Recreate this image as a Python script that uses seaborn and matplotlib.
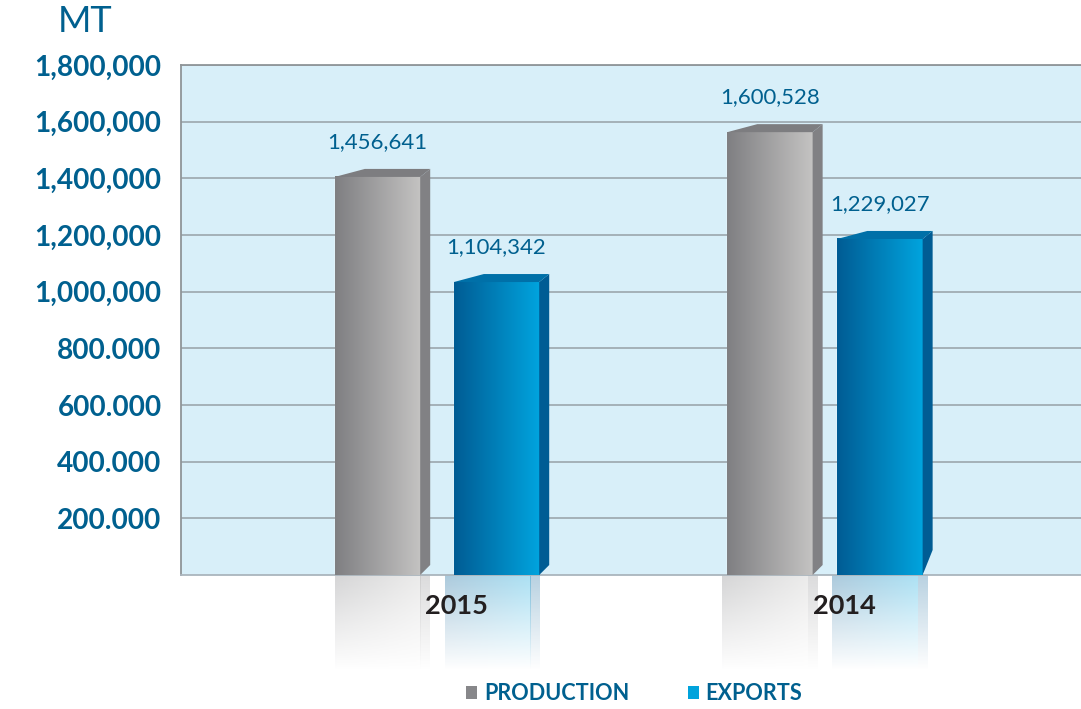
import numpy as np
import pandas as pd
import matplotlib.pyplot as plt
import seaborn as sns
from matplotlib.colors import to_rgb
from matplotlib.patches import Polygon
from matplotlib.transforms import ScaledTranslation

# data
years = ["2015", "2014"]
series = ["PRODUCTION", "EXPORTS"]
production_heights = [1405000, 1563000]
exports_heights = [1034000, 1186000]
production_labels = ["1,456,641", "1,600,528"]
exports_labels = ["1,104,342", "1,229,027"]
tick_values = [200000, 400000, 600000, 800000, 1000000, 1200000, 1400000, 1600000, 1800000]
tick_labels = ["200.000", "400.000", "600.000", "800.000", "1,000,000",
               "1,200,000", "1,400,000", "1,600,000", "1,800,000"]

BLUE_TXT = "#00608f"
GRAY_LEFT, GRAY_RIGHT, GRAY_SIDE, GRAY_TOP = "#7f7f82", "#c4c3c2", "#818184", "#7d7d80"
BLUE_LEFT, BLUE_RIGHT, BLUE_SIDE, BLUE_TOP = "#005c94", "#00a4de", "#005c94", "#0070a8"

sns.set_theme(style="whitegrid")
plt.rcParams["font.family"] = ["Lato", "DejaVu Sans"]

df = pd.DataFrame({
    "year": years * 2,
    "series": [series[0]] * 2 + [series[1]] * 2,
    "height": production_heights + exports_heights,
})

W, H = 1081, 709
fig = plt.figure(figsize=(W / 100, H / 100), dpi=100, facecolor="white")
ax = fig.add_axes([181 / W, 1 - 575 / H, 900 / W, 510 / H])
ax.set_facecolor("#d8eff9")

sns.barplot(data=df, x="year", y="height", hue="series", order=years, hue_order=series,
            palette=["#87878a", "#00a3dc"], gap=0.45, errorbar=None, ax=ax)

xmin, xmax = -0.66, 1.66
ymin, ymax = 0, 1800000
px_x = (xmax - xmin) / 900
px_y = (ymax - ymin) / 510


def gradient(c0, c1, alpha_top=None, alpha_bottom=None):
    # horizontal colour ramp, optional vertical fade
    c0, c1 = np.array(to_rgb(c0)), np.array(to_rgb(c1))
    t = np.linspace(0, 1, 128)[None, :, None]
    rgb = np.repeat(c0[None, None, :] * (1 - t) + c1[None, None, :] * t, 128, axis=0)
    if alpha_top is None:
        return rgb
    a = np.linspace(alpha_top, alpha_bottom, 128)[:, None, None] * np.ones((128, 128, 1))
    return np.concatenate([rgb, a], axis=2)


# spacing between the two bars of a group and the shift of the reflections, in pixels
pair_px = [119, 110]
reflect_shift = [[0, -5], [-9, -5]]
side_rise = [[10, 10], [10, 25]]
DEPTH, RISE, SKEW, FADE = 10, 8, 30, 96

styles = [(GRAY_LEFT, GRAY_RIGHT, GRAY_SIDE, GRAY_TOP), (BLUE_LEFT, BLUE_RIGHT, BLUE_SIDE, BLUE_TOP)]
value_labels = [production_labels, exports_labels]

for s, cont in enumerate(ax.containers):
    left, right, side, top = styles[s]
    for i, bar in enumerate(cont):
        w = bar.get_width()
        h = bar.get_height()
        sign = -1 if s == 0 else 1
        x0 = i + sign * pair_px[i] * px_x / 2 - w / 2
        x1 = x0 + w
        bar.set_x(x0)
        dx, dy = DEPTH * px_x, RISE * px_y
        ax.imshow(gradient(left, right), extent=[x0, x1, 0, h], aspect="auto", zorder=3)
        ax.add_patch(Polygon([(x1, h), (x1 + dx, h + dy), (x1 + dx, side_rise[s][i] * px_y), (x1, 0)],
                             fc=side, ec="none", zorder=3))
        ax.add_patch(Polygon([(x0, h), (x0 + SKEW * px_x, h + dy), (x1 + dx, h + dy), (x1, h)],
                             fc=top, ec="none", zorder=3))
        # reflection under the axis
        rx = reflect_shift[s][i] * px_x
        ax.imshow(gradient(left, right, 0.33, 0), extent=[x0 + rx, x1 + rx, -FADE * px_y, 0],
                  aspect="auto", zorder=1, clip_on=False)
        ax.imshow(gradient(side, side, 0.28, 0), extent=[x1 + rx, x1 + rx + dx, -FADE * px_y, 0],
                  aspect="auto", zorder=1, clip_on=False)
        ax.annotate(value_labels[s][i], (x0 + w / 2, h), xytext=(0, 35 * 0.72),
                    textcoords="offset points", ha="center", va="center",
                    color=BLUE_TXT, fontsize=15.9, zorder=5)

ax.set_xlim(xmin, xmax)
ax.set_ylim(ymin, ymax)
ax.set_axisbelow("line")
ax.set_xlabel("")
ax.set_ylabel("")

ax.grid(axis="x", visible=False)
ax.grid(axis="y", color="#a0acb3", linewidth=1.3)
ax.set_yticks(tick_values, tick_labels)
ax.tick_params(axis="y", length=0, pad=14, labelsize=20.2, labelcolor=BLUE_TXT)
for t in ax.get_yticklabels():
    t.set_fontweight("bold")

ax.set_xticks(range(len(years)), years)
ax.tick_params(axis="x", length=0, pad=14, labelsize=19.5, labelcolor="#231f20")
for t in ax.get_xticklabels():
    t.set_fontweight("bold")
    t.set_transform(t.get_transform() + ScaledTranslation(14 / 72, 0, fig.dpi_scale_trans))

for name, sp in ax.spines.items():
    sp.set_color("#8f9598")
    sp.set_linewidth(1.3)
ax.spines["right"].set_visible(False)
ax.spines["bottom"].set_color("#aab5bd")

fig.text(85 / W, 1 - 22 / H, "MT", color=BLUE_TXT, fontsize=26, ha="center", va="center")

handles = [plt.Rectangle((0, 0), 1, 1, fc=c, ec="none") for c in ["#87878a", "#00a3dc"]]
leg = ax.legend(handles, series, ncol=2, frameon=False, loc="center left",
                bbox_to_anchor=(466 / W, 1 - 694 / H), bbox_transform=fig.transFigure,
                fontsize=15.6, handlelength=0.53, handleheight=0.53, handletextpad=0.3,
                columnspacing=2.7, borderpad=0, borderaxespad=0, labelcolor=BLUE_TXT)
for t in leg.get_texts():
    t.set_fontweight("bold")

fig.savefig("out.png", dpi=100)
